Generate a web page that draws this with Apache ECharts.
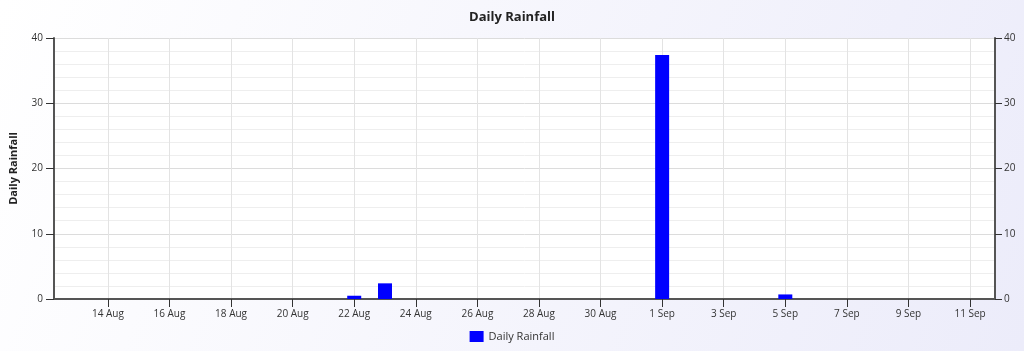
<!DOCTYPE html>
<html><head><meta charset="utf-8">
<script src="https://cdn.jsdelivr.net/npm/echarts@6/dist/echarts.min.js"></script>
<style>html,body{margin:0;padding:0;}#c{width:1024px;height:351px;}</style>
</head><body><div id="c"></div>
<script>
// Day numbers counted from 1 Aug (1 Sep = 32)
const days = [13,14,15,16,17,18,19,20,21,22,23,24,25,26,27,28,29,30,31,32,33,34,35,36,37,38,39,40,41,42];
const rainfall = [0,0,0,0,0,0,0,0,0,0.5,2.4,0,0,0,0,0,0,0,0,37.4,0,0,0,0.7,0,0,0,0,0,0];
const tickDays = [14,16,18,20,22,24,26,28,30,32,34,36,38,40,42];
const yTicks = [0,10,20,30,40];

function dayLabel(v){ return v <= 31 ? v + ' Aug' : (v - 31) + ' Sep'; }

const chart = echarts.init(document.getElementById('c'));
const font = "'Open Sans', sans-serif";
chart.setOption({
  backgroundColor: new echarts.graphic.LinearGradient(0,0,1,1,[{offset:0,color:'#ffffff'},{offset:1,color:'#ececfa'}]),
  animation: false,
  title: { text: 'Daily Rainfall', left: 'center', top: 6,
    textStyle: { fontFamily: font, fontSize: 13, fontWeight: 'bold', color: '#222' } },
  legend: { bottom: 4, left: 'center', itemWidth: 14, itemHeight: 11, icon: 'rect',
    textStyle: { fontFamily: font, fontSize: 11, color: '#333' }, data: ['Daily Rainfall'] },
  grid: { left: 51, right: 29, top: 38, bottom: 52, show: true, backgroundColor: '#fff', borderWidth: 0 },
  xAxis: { type: 'value', min: 12.25, max: 42.81,
    axisLine: { lineStyle: { color: '#555', width: 2 } },
    axisTick: { customValues: tickDays, length: 8, lineStyle: { color: '#333' } },
    axisLabel: { customValues: tickDays, formatter: dayLabel, fontFamily: font, fontSize: 10, color: '#333', margin: 10 },
    splitLine: { show: true, customValues: tickDays, lineStyle: { color: '#e3e3e3' } } },
  yAxis: [
    { type: 'value', min: yTicks[0], max: yTicks[yTicks.length-1], interval: 10, name: 'Daily Rainfall', nameLocation: 'middle', nameGap: 35,
      nameTextStyle: { fontFamily: font, fontSize: 11, fontWeight: 'bold', color: '#222' },
      axisLine: { show: true, lineStyle: { color: '#555', width: 2 } },
      axisTick: { show: true, length: 8, lineStyle: { color: '#333' } },
      axisLabel: { fontFamily: font, fontSize: 10, color: '#333', margin: 11 },
      splitLine: { lineStyle: { color: '#dcdcdc' } },
      minorTick: { show: false, splitNumber: 5 },
      minorSplitLine: { show: true, lineStyle: { color: '#eeeeee' } } },
    { type: 'value', min: yTicks[0], max: yTicks[yTicks.length-1], interval: 10, position: 'right',
      axisLine: { show: true, lineStyle: { color: '#555', width: 2 } },
      axisTick: { show: true, length: 7, lineStyle: { color: '#333' } },
      axisLabel: { fontFamily: font, fontSize: 10, color: '#333', margin: 9 },
      splitLine: { show: false } }
  ],
  series: [{ name: 'Daily Rainfall', type: 'bar', barWidth: 14, itemStyle: { color: '#0000ff' },
    data: days.map((d,i) => [d, rainfall[i]]) }]
});
</script></body></html>
